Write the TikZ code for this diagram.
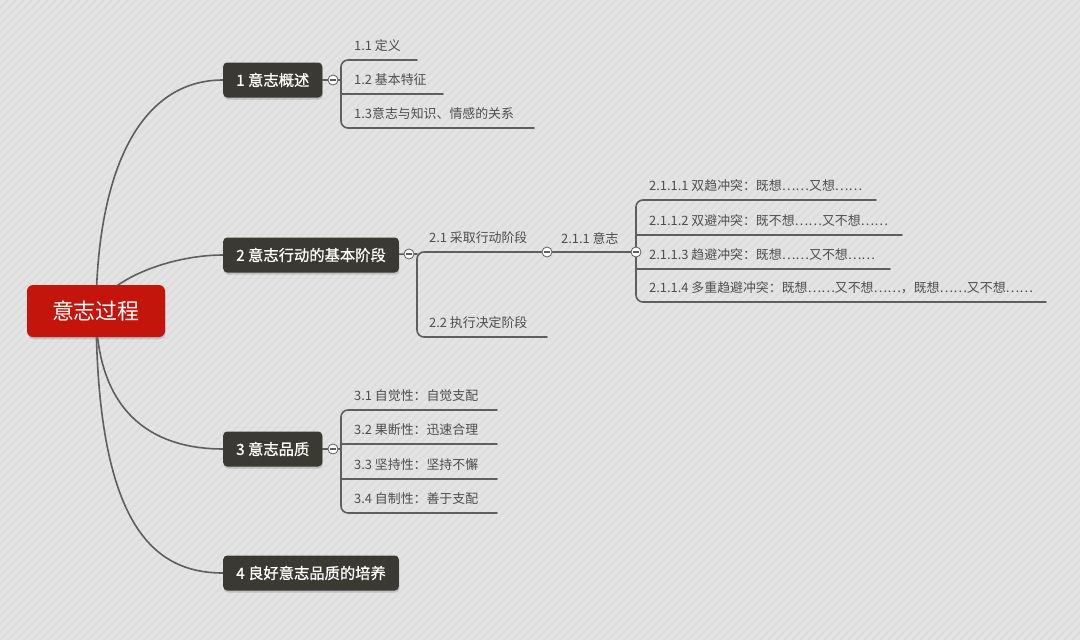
\documentclass[tikz,border=0pt]{standalone}
\usepackage{fontspec}
\setmainfont{Noto Sans CJK SC}
\newfontfamily\topicfont{Noto Sans CJK SC}[FakeBold=0.8]
\usetikzlibrary{backgrounds,shadows}
\definecolor{rootred}{HTML}{C4150C}
\definecolor{boxdark}{HTML}{3A3A32}
\definecolor{linkgray}{HTML}{5E5E5E}
\definecolor{leafgray}{HTML}{4E4E4E}
\definecolor{paper}{HTML}{E4E4E4}
\definecolor{stripe}{HTML}{DDDDDD}

\begin{document}
\begin{tikzpicture}[x=1pt,y=-1pt,
  link/.style={draw=linkgray,line width=1.6pt,line cap=round},
  topic/.style={fill=boxdark,text=white,rounded corners=4pt,minimum height=35pt,
    inner xsep=13pt,font=\topicfont\fontsize{15.3}{17}\selectfont,
    drop shadow={shadow xshift=0.6pt,shadow yshift=-2pt,opacity=0.35}},
  leaf/.style={anchor=west,inner sep=2pt,text=leafgray,font=\fontsize{12.9}{14}\selectfont},
  fold/.style={circle,draw=linkgray,fill=white,line width=0.8pt,minimum size=10pt,inner sep=0pt,
    path picture={\draw[linkgray,line width=1.3pt]
      ([xshift=-2.6pt]path picture bounding box.center) -- ([xshift=2.6pt]path picture bounding box.center);}}]
  \useasboundingbox (0,0) rectangle (1080,640);
  \begin{scope}[on background layer]
    \fill[paper] (0,0) rectangle (1080,640);
    \clip (0,0) rectangle (1080,640);
    \foreach \x in {-640,-632,...,1080}
      \draw[stripe,line width=2.4pt] (\x,640) -- (\x+640,0);
  \end{scope}

  % central topic
  \node[fill=rootred,text=white,rounded corners=6pt,minimum height=52pt,inner xsep=25pt,
    font=\fontsize{22}{24}\selectfont,
    drop shadow={shadow xshift=0.6pt,shadow yshift=-2pt,opacity=0.35}] (root) at (96,311) {意志过程};

  % main branches
  \node[topic,anchor=west] (b1) at (223,80) {1 意志概述};
  \node[topic,anchor=west] (b2) at (223,255) {2 意志行动的基本阶段};
  \node[topic,anchor=west] (b3) at (223,449) {3 意志品质};
  \node[topic,anchor=west] (b4) at (223,573) {4 良好意志品质的培养};

  \node[fold] (f1) at (333,80) {};
  \node[fold] (f2) at (409,254) {};
  \node[fold] (f3) at (333,449) {};
  \node[fold] (f21) at (547,252) {};
  \node[fold] (f211) at (636,252) {};
  \coordinate (j1) at (341,80);
  \coordinate (j2) at (417,254);
  \coordinate (j3) at (341,449);

  % 1 subtopics
  \foreach \n/\y/\e/\txt in {a/60/417/{1.1 定义},b/94/443/{1.2 基本特征},
      c/128/534/{1.3意志与知识、情感的关系}} {
    \node[leaf] (t1\n) at (352,\y-14) {\txt};
    \coordinate (u1\n) at (\e,\y);
  }
  % 2 subtopics
  \node[leaf] (t2a) at (427,238) {2.1 采取行动阶段};
  \node[leaf] (t2b) at (427,323) {2.2 执行决定阶段};
  \coordinate (u2b) at (547,337);
  \node[leaf] (t21a) at (559,238) {2.1.1 意志};
  \foreach \n/\y/\e/\txt in {a/200/876/{2.1.1.1 双趋冲突：既想……又想……},
      b/235/902/{2.1.1.2 双避冲突：既不想……又不想……},
      c/269/890/{2.1.1.3 趋避冲突：既想……又不想……},
      d/302/1046/{2.1.1.4 多重趋避冲突：既想……又不想……，既想……又不想……}} {
    \node[leaf] (t211\n) at (647,\y-14) {\txt};
    \coordinate (u211\n) at (\e,\y);
  }
  % 3 subtopics
  \foreach \n/\y/\txt in {a/410/{3.1 自觉性：自觉支配},b/444/{3.2 果断性：迅速合理},
      c/479/{3.3 坚持性：坚持不懈},d/513/{3.4 自制性：善于支配}} {
    \node[leaf] (t3\n) at (352,\y-14) {\txt};
    \coordinate (u3\n) at (497,\y);
  }

  \begin{scope}[on background layer]
    \draw[link] (root.center) .. controls (97,170) and (140,80) .. (b1.west);
    \draw[link] (root.center) .. controls (106,280) and (170,255) .. (b2.west);
    \draw[link] (root.center) .. controls (97,420) and (160,449) .. (b3.west);
    \draw[link] (root.center) .. controls (97,520) and (150,573) .. (b4.west);

    \draw[link] (b1) -- (f1) -- (j1);
    \draw[link,rounded corners=7pt] (u1a) -- (j1 |- u1a) -- (j1 |- u1c) -- (u1c);
    \draw[link] (j1 |- u1b) -- (u1b);

    \draw[link] (b2) -- (f2) -- (j2);
    \draw[link,rounded corners=7pt] (f21) -- (j2 |- f21) -- (j2 |- u2b) -- (u2b);
    \draw[link] (f21) -- (f211);
    \draw[link,rounded corners=7pt] (u211a) -- (f211 |- u211a) -- (f211 |- u211d) -- (u211d);
    \draw[link] (f211 |- u211b) -- (u211b);
    \draw[link] (f211 |- u211c) -- (u211c);

    \draw[link] (b3) -- (f3) -- (j3);
    \draw[link,rounded corners=7pt] (u3a) -- (j3 |- u3a) -- (j3 |- u3d) -- (u3d);
    \draw[link] (j3 |- u3b) -- (u3b);
    \draw[link] (j3 |- u3c) -- (u3c);
  \end{scope}
\end{tikzpicture}
\end{document}
